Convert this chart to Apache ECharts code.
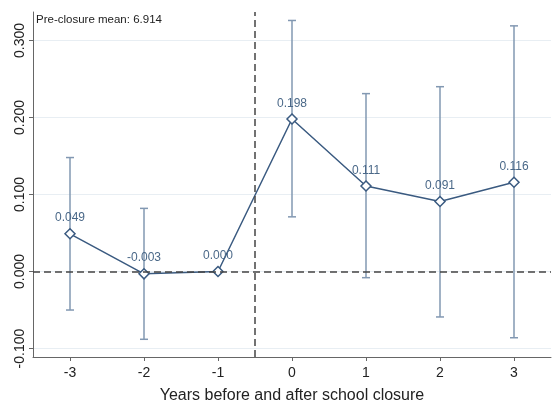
<!DOCTYPE html>
<html>
<head>
<meta charset="utf-8">
<script src="https://cdn.jsdelivr.net/npm/echarts@6/dist/echarts.min.js"></script>
<style>html,body{margin:0;padding:0;background:#fff}#c{width:555px;height:401px}</style>
</head>
<body>
<div id="c"></div>
<script>
const years = [-3, -2, -1, 0, 1, 2, 3];
const estimates = [0.049, -0.003, 0.000, 0.198, 0.111, 0.091, 0.116];
const ciLow = [-0.050, -0.088, null, 0.071, -0.008, -0.059, -0.086];
const ciHigh = [0.148, 0.082, null, 0.326, 0.231, 0.240, 0.319];
const yTicks = [-0.1, 0.0, 0.1, 0.2, 0.3];
const xTicks = [-3, -2, -1, 0, 1, 2, 3];
const noteText = 'Pre-closure mean: 6.914';
const xTitle = 'Years before and after school closure';

const FONT = 'Liberation Sans, Arial, sans-serif';
const lineColor = '#3a5a80';
const ciColor = '#8298b2';

const ciData = [];
years.forEach((y, i) => { if (ciLow[i] !== null) ciData.push([y, ciLow[i], ciHigh[i]]); });
const pointData = years.map((y, i) => [y, estimates[i]]);

const chart = echarts.init(document.getElementById('c'));
chart.setOption({
  animation: false,
  backgroundColor: '#fff',
  grid: { left: 33, right: 4, top: 12, bottom: 44, containLabel: false, outerBoundsMode: 'none' },
  xAxis: {
    type: 'value', min: -3.5, max: 3.5,
    name: xTitle, nameLocation: 'middle', nameGap: 31,
    nameTextStyle: { fontFamily: FONT, fontSize: 16, color: '#222' },
    axisLine: { show: true, onZero: false, lineStyle: { color: '#666', width: 1 } },
    axisTick: { show: true, length: 4, customValues: xTicks, lineStyle: { color: '#666' } },
    axisLabel: { customValues: xTicks, fontFamily: FONT, fontSize: 14, color: '#222', margin: 9 },
    splitLine: { show: false }
  },
  yAxis: {
    type: 'value', min: -0.111, max: 0.337,
    axisLine: { show: true, onZero: false, lineStyle: { color: '#666', width: 1 } },
    axisTick: { show: true, length: 4, customValues: yTicks, lineStyle: { color: '#666' } },
    axisLabel: { customValues: yTicks, rotate: 90, fontFamily: FONT, fontSize: 14, color: '#222', margin: 6,
      formatter: v => v.toFixed(3) },
    splitLine: { show: true, lineStyle: { color: '#e8eef3', width: 1 } }
  },
  graphic: [{
    type: 'text', left: 36, top: 14,
    style: { text: noteText, fontFamily: FONT, fontSize: 11.5, fill: '#222' }
  }],
  series: [
    {
      type: 'custom', z: 1,
      data: ciData,
      encode: { x: 0, y: [1, 2] },
      renderItem: (params, api) => {
        const x = api.value(0), lo = api.value(1), hi = api.value(2);
        const a = api.coord([x, hi]), b = api.coord([x, lo]);
        const w = 4;
        const st = { stroke: ciColor, lineWidth: 1.5 };
        return { type: 'group', children: [
          { type: 'line', shape: { x1: a[0], y1: a[1], x2: b[0], y2: b[1] }, style: st },
          { type: 'line', shape: { x1: a[0] - w, y1: a[1], x2: a[0] + w, y2: a[1] }, style: st },
          { type: 'line', shape: { x1: b[0] - w, y1: b[1], x2: b[0] + w, y2: b[1] }, style: st }
        ] };
      },
      markLine: {
        silent: true, symbol: 'none', animation: false,
        label: { show: false },
        lineStyle: { color: '#444', type: [7, 4], width: 1.5 },
        data: [{ yAxis: 0 }, { xAxis: -0.5 }]
      }
    },
    {
      type: 'line', z: 3,
      data: pointData,
      symbol: 'diamond', symbolSize: 10,
      lineStyle: { color: lineColor, width: 1.5 },
      itemStyle: { color: '#fff', borderColor: lineColor, borderWidth: 1.5 },
      label: { show: true, position: 'top', distance: 4, fontFamily: FONT, fontSize: 12, color: '#4a6888',
        formatter: p => p.value[1].toFixed(3) }
    }
  ]
});
</script>
</body>
</html>
